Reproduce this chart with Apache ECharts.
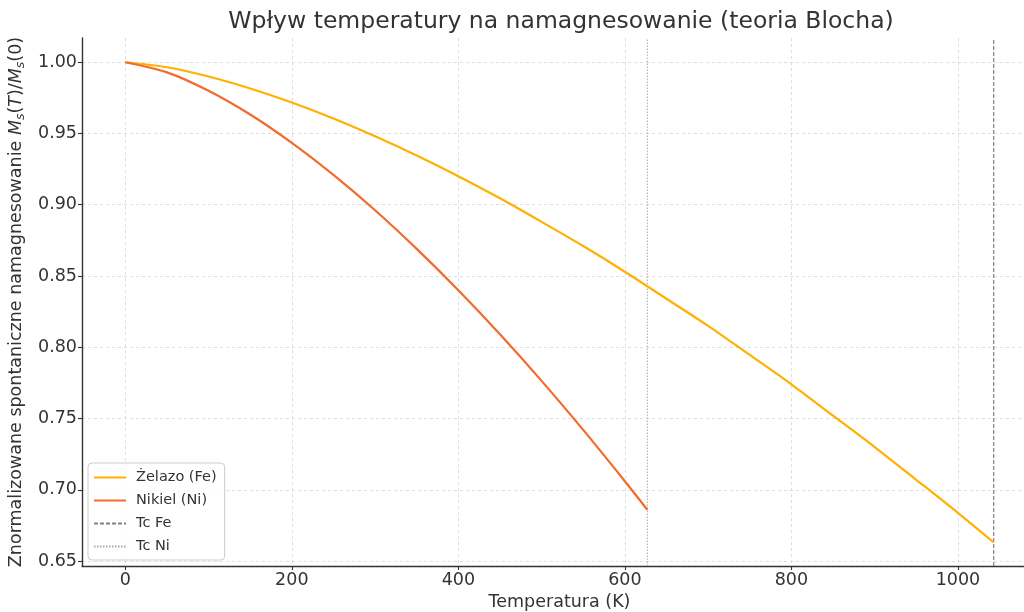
<!DOCTYPE html>
<html>
<head>
<meta charset="utf-8">
<script src="https://cdn.jsdelivr.net/npm/echarts@6/dist/echarts.min.js"></script>
<style>
  html, body { margin: 0; padding: 0; background: #fff; }
  #chart { width: 1024px; height: 612px; }
</style>
</head>
<body>
<div id="chart"></div>
<script>
// Temperature samples (K) and normalised spontaneous magnetisation values
const feTemps = [0, 50, 100, 150, 200, 250, 300, 350, 400, 450, 500, 550, 600, 650, 700, 750, 800, 850, 900, 950, 1000, 1043];
const feValues = [1.000, 0.9965, 0.990, 0.9816, 0.9717, 0.9605, 0.948, 0.9345, 0.920, 0.9045, 0.888, 0.871, 0.853, 0.834, 0.815, 0.7946, 0.774, 0.752, 0.730, 0.707, 0.6838, 0.663];

const niTemps = [0, 50, 100, 150, 200, 250, 300, 350, 400, 450, 500, 550, 600, 627];
const niValues = [1.000, 0.9929, 0.980, 0.9633, 0.9434, 0.9209, 0.8961, 0.869, 0.840, 0.8091, 0.7764, 0.742, 0.706, 0.686];

// Curie temperatures (K)
const tcFe = 1043;
const tcNi = 627;

// Axis ranges and tick labels
const xRange = [-52, 1095];
const yRange = [0.6465, 1.017];
const xTicks = [0, 200, 400, 600, 800, 1000];
const yTicks = [0.65, 0.70, 0.75, 0.80, 0.85, 0.90, 0.95, 1.00];

const labels = {
  title: 'Wpływ temperatury na namagnesowanie (teoria Blocha)',
  xName: 'Temperatura (K)',
  fe: 'Żelazo (Fe)',
  ni: 'Nikiel (Ni)',
  tcFe: 'Tc Fe',
  tcNi: 'Tc Ni'
};

const pair = (xs, ys) => xs.map((x, i) => [x, ys[i]]);

const font = 'DejaVu Sans';
const ink = '#333333';
const gridLine = { show: true, lineStyle: { color: '#d6d6d6', type: [3, 3], width: 0.8 } };

const chart = echarts.init(document.getElementById('chart'), null, { renderer: 'canvas' });

chart.setOption({
  backgroundColor: '#ffffff',
  animation: false,
  title: {
    text: labels.title,
    left: 556,
    textAlign: 'center',
    top: 5,
    textStyle: { fontFamily: font, fontSize: 23.5, fontWeight: 'normal', color: ink }
  },
  grid: { left: 82, top: 38, width: 955, height: 528, containLabel: false, outerBoundsMode: 'none' },
  xAxis: {
    type: 'value',
    min: xRange[0],
    max: xRange[1],
    name: labels.xName,
    nameLocation: 'middle',
    nameGap: 26,
    nameTextStyle: { fontFamily: font, fontSize: 17.5, color: ink },
    axisLine: { show: true, onZero: false, lineStyle: { color: ink, width: 1.4 } },
    axisTick: { show: true, inside: false, length: 4, customValues: xTicks, lineStyle: { color: ink, width: 1.1 } },
    axisLabel: { customValues: xTicks, fontFamily: font, fontSize: 17.5, color: ink, margin: 5, formatter: v => String(v) },
    splitLine: gridLine
  },
  yAxis: {
    type: 'value',
    min: yRange[0],
    max: yRange[1],
    name: '{n|Znormalizowane spontaniczne namagnesowanie }{i|M}{s|s}{n|(}{i|T}{n|)/}{i|M}{s|s}{n|(0)}',
    nameLocation: 'middle',
    nameGap: 52,
    nameTextStyle: {
      fontFamily: font,
      fontSize: 17.5,
      color: ink,
      rich: {
        n: { fontFamily: font, fontSize: 17.5, color: ink, lineHeight: 22 },
        i: { fontFamily: font, fontSize: 17.5, fontStyle: 'italic', color: ink, lineHeight: 22 },
        s: { fontFamily: font, fontSize: 12.5, fontStyle: 'italic', color: ink, lineHeight: 22, padding: [9, 0, 0, 0] }
      }
    },
    axisLine: { show: true, onZero: false, lineStyle: { color: ink, width: 1.4 } },
    axisTick: { show: true, inside: false, length: 4, customValues: yTicks, lineStyle: { color: ink, width: 1.1 } },
    axisLabel: {
      customValues: yTicks,
      fontFamily: font, fontSize: 17.5, color: ink, margin: 5,
      formatter: v => v.toFixed(2)
    },
    splitLine: gridLine
  },
  legend: {
    orient: 'vertical',
    left: 88,
    top: 463,
    itemWidth: 32,
    itemHeight: 14,
    itemGap: 8,
    padding: [7, 8, 6, 5],
    backgroundColor: 'rgba(255,255,255,0.85)',
    borderColor: '#cccccc',
    borderWidth: 1,
    borderRadius: 4,
    itemStyle: { opacity: 0 },
    textStyle: { fontFamily: font, fontSize: 14.5, color: ink, padding: [0, 0, 0, 5] },
    data: [labels.fe, labels.ni, labels.tcFe, labels.tcNi]
  },
  series: [
    {
      name: labels.fe,
      type: 'line',
      data: pair(feTemps, feValues),
      smooth: 0.3,
      symbol: 'none',
      lineStyle: { color: '#ffb000', width: 2.2 },
      itemStyle: { color: '#ffb000' },
      z: 5
    },
    {
      name: labels.ni,
      type: 'line',
      data: pair(niTemps, niValues),
      smooth: 0.3,
      symbol: 'none',
      lineStyle: { color: '#f26a2c', width: 2.2 },
      itemStyle: { color: '#f26a2c' },
      z: 5
    },
    {
      name: labels.tcFe,
      type: 'line',
      data: [[tcFe, yRange[0]], [tcFe, yRange[1]]],
      symbol: 'none',
      lineStyle: { color: '#808080', width: 1.2, type: [4, 2] },
      itemStyle: { color: '#808080' },
      z: 4
    },
    {
      name: labels.tcNi,
      type: 'line',
      data: [[tcNi, yRange[0]], [tcNi, yRange[1]]],
      symbol: 'none',
      lineStyle: { color: '#a8a8a8', width: 1, type: [1.5, 1.5] },
      itemStyle: { color: '#a8a8a8' },
      z: 4
    }
  ]
});
</script>
</body>
</html>
